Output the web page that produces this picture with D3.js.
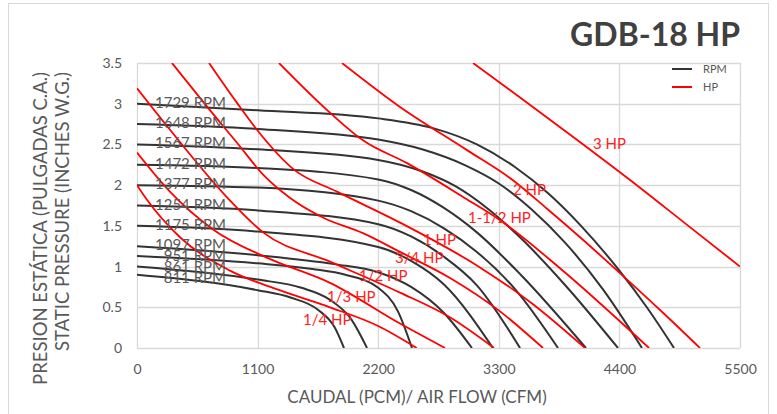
<!DOCTYPE html>
<html>
<head>
<meta charset="utf-8">
<script src="https://cdn.jsdelivr.net/npm/d3@7"></script>
<style>
  html, body { margin: 0; padding: 0; background: #ffffff; }
  svg { display: block; }
  text { font-family: Lato, "Open Sans", sans-serif; }
</style>
</head>
<body>
<svg id="chart" width="777" height="414"></svg>
<script>
// ---------- DATA ----------
const chartTitle = "GDB-18 HP";
const xTicks = [0, 1100, 2200, 3300, 4400, 5500];
const yTicks = [0, 0.5, 1, 1.5, 2, 2.5, 3, 3.5];
const xTitle = "CAUDAL (PCM)/ AIR FLOW (CFM)";
const yTitle1 = "PRESION ESTÁTICA (PULGADAS C.A.)";
const yTitle2 = "STATIC PRESSURE (INCHES W.G.)";

const rpmNames = ["1729 RPM","1648 RPM","1567 RPM","1472 RPM","1377 RPM","1254 RPM","1175 RPM","1097 RPM","951 RPM","861 RPM","811 RPM"];
const rpm1729 = [[0,3.0],[1100,2.92],[2200,2.82],[2700,2.70],[3100,2.50],[3450,2.22],[3750,1.90],[4050,1.50],[4400,0.95],[4650,0.50],[4898,0]];
const rpm1648 = [[0,2.75],[1100,2.69],[2200,2.56],[2600,2.44],[3000,2.24],[3300,2.02],[3600,1.70],[3900,1.30],[4250,0.72],[4606,0]];
const rpm1567 = [[0,2.5],[1100,2.44],[2200,2.31],[2600,2.17],[2900,1.99],[3200,1.71],[3500,1.35],[3900,0.78],[4387,0]];
const rpm1472 = [[0,2.25],[1100,2.21],[2200,2.07],[2500,1.94],[2800,1.72],[3100,1.42],[3500,0.9],[4095,0]];
const rpm1377 = [[0,2.0],[1100,1.97],[2200,1.81],[2500,1.68],[2800,1.47],[3100,1.18],[3450,0.72],[3840,0]];
const rpm1254 = [[0,1.75],[1100,1.69],[2200,1.52],[2500,1.37],[2800,1.12],[3100,0.77],[3494,0]];
const rpm1175 = [[0,1.5],[1100,1.43],[2200,1.24],[2500,1.07],[2800,0.78],[3247,0]];
const rpm1097 = [[0,1.25],[1100,1.14],[1800,1.03],[2200,0.93],[2500,0.75],[2800,0.43],[3055,0]];
const rpm951  = [[0,1.13],[1100,1.04],[1600,0.97],[1900,0.9],[2200,0.74],[2380,0.45],[2508,0]];
const rpm861  = [[0,1.0],[1100,0.84],[1500,0.74],[1750,0.6],[1950,0.36],[2098,0]];
const rpm811  = [[0,0.9],[1100,0.71],[1400,0.62],[1650,0.47],[1800,0.26],[1888,0]];
const rpmSeries = [rpm1729,rpm1648,rpm1567,rpm1472,rpm1377,rpm1254,rpm1175,rpm1097,rpm951,rpm861,rpm811];

const hpNames = ["1/4 HP","1/3 HP","1/2 HP","3/4 HP","1 HP","1-1/2 HP","2 HP","3 HP"];
const hp14  = [[0,2.0],[91,1.82],[392,1.36],[848,0.95],[1300,0.71],[1760,0.5],[2200,0.27],[2551,0]];
const hp13  = [[0,2.4],[300,1.92],[700,1.45],[1200,1.1],[1760,0.8],[2399,0.3],[2809,0]];
const hp12  = [[0,3.19],[301,2.68],[821,1.85],[1150,1.42],[1760,1.06],[2399,0.68],[2850,0.38],[3256,0]];
const hp34  = [[319,3.5],[611,3.01],[912,2.52],[1150,2.13],[1400,1.84],[1700,1.6],[2061,1.41],[2399,1.18],[2855,0.86],[3311,0.45],[3703,0]];
const hp1   = [[657,3.5],[912,3.01],[1094,2.68],[1432,2.19],[1824,1.92],[2399,1.54],[3128,0.99],[3600,0.55],[4086,0]];
const hp112 = [[1295,3.5],[1760,2.89],[2061,2.55],[2463,2.27],[2992,1.84],[3311,1.57],[3858,0.98],[4670,0]];
const hp2   = [[1870,3.5],[2399,2.96],[3010,2.43],[3429,2.06],[3740,1.71],[4041,1.36],[4405,0.92],[4800,0.43],[5135,0]];
const hp3   = [[3065,3.5],[3500,3.07],[4000,2.57],[4500,2.06],[5000,1.53],[5500,1.0]];
const hpSeries = [hp14,hp13,hp12,hp34,hp1,hp112,hp2,hp3];
// label anchor (flow, pressure) for each HP label
const hpLabelQ = [1515, 1734, 2025, 2353, 2608, 3020, 3430, 4159];
const hpLabelP = [0.28, 0.56, 0.82, 1.04, 1.26, 1.53, 1.88, 2.44];

const legendNames = ["RPM", "HP"];

// ---------- LAYOUT ----------
const svg = d3.select("#chart");
const W = 777, H = 414;
const plot = {left: 137, right: 740, top: 63, bottom: 348};
const x = d3.scaleLinear().domain([0, 5500]).range([plot.left, plot.right]);
const y = d3.scaleLinear().domain([0, 3.5]).range([plot.bottom, plot.top]);
const gridColor = "#d9d9d9";
const textColor = "#595959";
const blackLine = "#333333";
const redLine = "#ff0000";

svg.append("rect").attr("width", W).attr("height", H).attr("fill", "#fff");
// outer chart border
svg.append("rect").attr("x", 8.5).attr("y", 3.5).attr("width", 760).attr("height", 430)
  .attr("fill", "none").attr("stroke", gridColor);

// title
svg.append("text").attr("x", 740).attr("y", 46).attr("text-anchor", "end")
  .attr("font-size", 32).attr("font-weight", "bold").attr("fill", "#404040").text(chartTitle);

// grid
const grid = svg.append("g");
grid.selectAll(".gx").data(xTicks).join("line")
  .attr("x1", d => Math.round(x(d)) + 0.5).attr("x2", d => Math.round(x(d)) + 0.5)
  .attr("y1", plot.top).attr("y2", plot.bottom).attr("stroke", gridColor).attr("stroke-width", 1.3);
grid.selectAll(".gy").data(yTicks).join("line")
  .attr("y1", d => Math.round(y(d)) + 0.5).attr("y2", d => Math.round(y(d)) + 0.5)
  .attr("x1", plot.left).attr("x2", plot.right).attr("stroke", gridColor).attr("stroke-width", 1.3);

// axes (labels only)
const xAxis = d3.axisBottom(x).tickValues(xTicks).tickSize(0).tickPadding(16).tickFormat(d3.format("d"));
const gx = svg.append("g").attr("transform", `translate(0,${plot.bottom})`).call(xAxis);
gx.select(".domain").remove();
gx.selectAll("text").attr("font-size", 14).attr("fill", textColor).attr("font-family", "Lato, sans-serif");

const yAxis = d3.axisLeft(y).tickValues(yTicks).tickSize(0).tickPadding(15).tickFormat(d => d3.format("")(d));
const gy = svg.append("g").attr("transform", `translate(${plot.left},0)`).call(yAxis);
gy.select(".domain").remove();
gy.selectAll("text").attr("font-size", 14).attr("fill", textColor).attr("font-family", "Lato, sans-serif");

// axis titles
svg.append("text").attr("x", 417).attr("y", 403).attr("text-anchor", "middle")
  .attr("font-size", 17).attr("fill", textColor).text(xTitle);
svg.append("text").attr("transform", "translate(47,72) rotate(-90)").attr("text-anchor", "end")
  .attr("font-size", 18.5).attr("fill", textColor).text(yTitle1);
svg.append("text").attr("transform", "translate(69,72) rotate(-90)").attr("text-anchor", "end")
  .attr("font-size", 18.5).attr("fill", textColor).text(yTitle2);

// curves
const line = d3.line().x(d => x(d[0])).y(d => y(d[1])).curve(d3.curveMonotoneX);
const clip = svg.append("clipPath").attr("id", "clip").append("rect")
  .attr("x", plot.left).attr("y", plot.top).attr("width", plot.right - plot.left).attr("height", plot.bottom - plot.top);
const curves = svg.append("g").attr("clip-path", "url(#clip)");
curves.selectAll(".rpm").data(rpmSeries).join("path").attr("class", "rpm")
  .attr("d", line).attr("fill", "none").attr("stroke", blackLine).attr("stroke-width", 2);
curves.selectAll(".hp").data(hpSeries).join("path").attr("class", "hp")
  .attr("d", line).attr("fill", "none").attr("stroke", redLine).attr("stroke-width", 1.8);

// RPM labels
let prevY = -Infinity;
const rpmLabelY = rpmSeries.map(s => { const v = Math.max(y(s[0][1]) + 4, prevY + 11); prevY = v; return v; });
svg.selectAll(".rpmlab").data(rpmNames).join("text").attr("class", "rpmlab")
  .attr("x", 226).attr("y", (d, i) => rpmLabelY[i]).attr("text-anchor", "end")
  .attr("font-size", 15).attr("fill", textColor).text(d => d);

// HP labels
svg.selectAll(".hplab").data(hpNames).join("text").attr("class", "hplab")
  .attr("x", (d, i) => x(hpLabelQ[i])).attr("y", (d, i) => y(hpLabelP[i]))
  .attr("font-size", 15).attr("fill", "#ff2222").text(d => d);

// legend
const lg = svg.append("g");
const legColors = [blackLine, redLine];
legendNames.forEach((n, i) => {
  const ly = 69 + i * 18;
  lg.append("line").attr("x1", 672).attr("x2", 692).attr("y1", ly).attr("y2", ly)
    .attr("stroke", legColors[i]).attr("stroke-width", 2);
  lg.append("text").attr("x", 703).attr("y", ly + 4).attr("font-size", 11).attr("fill", textColor).text(n);
});
</script>
</body>
</html>
